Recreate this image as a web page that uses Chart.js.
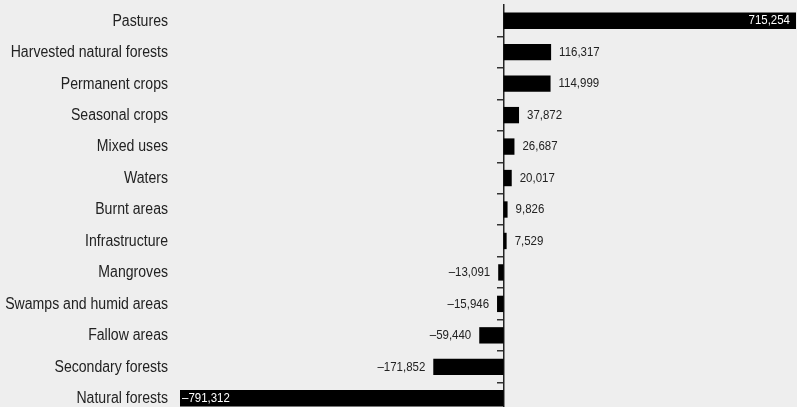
<!DOCTYPE html>
<html><head><meta charset="utf-8">
<script src="https://cdn.jsdelivr.net/npm/chart.js@4"></script>
<style>
html,body{margin:0;padding:0;background:#eeeeee;overflow:hidden}
#wrap{position:relative;width:797px;height:414px}
</style></head>
<body><div id="wrap"><canvas id="c"></canvas></div>
<script>
const categories = ["Pastures","Harvested natural forests","Permanent crops","Seasonal crops","Mixed uses","Waters","Burnt areas","Infrastructure","Mangroves","Swamps and humid areas","Fallow areas","Secondary forests","Natural forests"];
const values = [715254,116317,114999,37872,26687,20017,9826,7529,-13091,-15946,-59440,-171852,-791312];
const valueLabels = values.map(v => (v < 0 ? '\u2013' : '') + Math.abs(v).toLocaleString('en-US'));

const FONT = '"Liberation Sans", Arial, sans-serif';
const CAT_SIZE = 16, CAT_SX = 0.88;
const VAL_SIZE = 13.5, VAL_SX = 0.85;

// condensed text helper (horizontal squeeze of a regular face)
function drawText(ctx, text, x, y, align, sx) {
  ctx.save();
  ctx.translate(x, y);
  ctx.scale(sx, 1);
  ctx.textAlign = align;
  ctx.fillText(text, 0, 0);
  ctx.restore();
}

const labelPlugin = {
  id: 'labels',
  afterDatasetsDraw(chart) {
    const ctx = chart.ctx, area = chart.chartArea;
    const yScale = chart.scales.y;
    ctx.save();
    ctx.textBaseline = 'middle';
    // category labels
    ctx.font = CAT_SIZE + 'px ' + FONT;
    ctx.fillStyle = '#222';
    categories.forEach((c, i) => {
      drawText(ctx, c, area.left - 12, yScale.getPixelForTick(i) + 0.5, 'right', CAT_SX);
    });
    // value labels
    ctx.font = VAL_SIZE + 'px ' + FONT;
    const meta = chart.getDatasetMeta(0);
    meta.data.forEach((bar, i) => {
      const v = values[i], text = valueLabels[i];
      const w = ctx.measureText(text).width * VAL_SX;
      const gap = 8;
      if (v >= 0) {
        if (bar.x + gap + w <= area.right) { ctx.fillStyle = '#222'; drawText(ctx, text, bar.x + gap, bar.y, 'left', VAL_SX); }
        else { ctx.fillStyle = '#fff'; drawText(ctx, text, bar.x - 6, bar.y, 'right', VAL_SX); }
      } else {
        if (bar.x - gap - w >= area.left) { ctx.fillStyle = '#222'; drawText(ctx, text, bar.x - gap, bar.y, 'right', VAL_SX); }
        else { ctx.fillStyle = '#fff'; drawText(ctx, text, bar.x + 2, bar.y, 'left', VAL_SX); }
      }
    });
    ctx.restore();
  }
};

new Chart(document.getElementById('c'), {
  type: 'bar',
  data: {
    labels: categories,
    datasets: [{ data: values, backgroundColor: '#000', borderWidth: 0, barPercentage: 0.52, categoryPercentage: 1 }]
  },
  options: {
    indexAxis: 'y',
    responsive: true,
    maintainAspectRatio: false,
    animation: false,
    layout: { padding: { top: 5, right: 1, bottom: 0, left: 0 } },
    plugins: { legend: { display: false }, tooltip: { enabled: false } },
    scales: {
      x: { display: false, min: Math.min(...values), max: Math.max(...values) },
      y: {
        position: 'left',
        grid: { display: false },
        border: { display: false },
        ticks: { display: false },
        afterFit: s => { s.width = 180; s.paddingTop = 0; s.paddingBottom = 0; }
      },
      y2: {
        type: 'category',
        labels: categories,
        position: { x: 0 },
        offset: true,
        grid: { offset: true, drawOnChartArea: false, drawTicks: true, tickLength: 6,
                color: c => c.index === 0 ? 'rgba(0,0,0,0)' : '#333', lineWidth: 1.5 },
        border: { display: true, color: '#222', width: 1.5 },
        ticks: { display: false },
        afterFit: s => { s.paddingTop = 0; s.paddingBottom = 0; }
      }
    }
  },
  plugins: [labelPlugin]
});
</script>
</body></html>
